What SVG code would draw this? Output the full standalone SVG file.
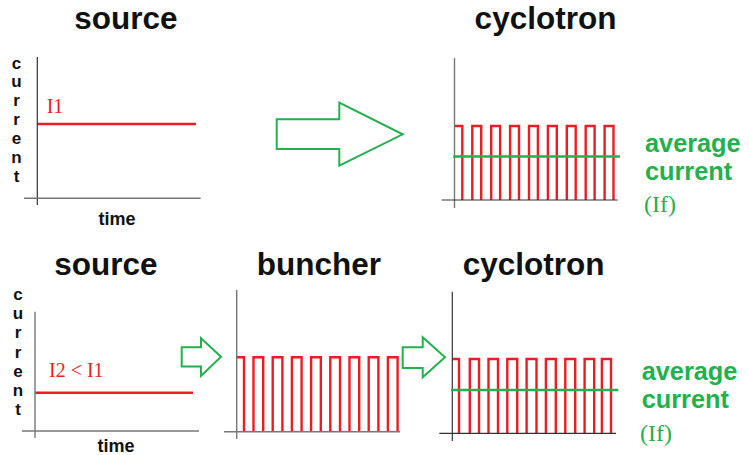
<svg xmlns="http://www.w3.org/2000/svg" width="749" height="455" viewBox="0 0 749 455">
<style>
.title{font-family:"Liberation Sans",Arial,sans-serif;font-weight:bold;font-size:31.5px;fill:#111;text-anchor:middle}
.axlab{font-family:"Liberation Sans",Arial,sans-serif;font-weight:bold;font-size:17px;fill:#111;text-anchor:middle}
.time{font-family:"Liberation Sans",Arial,sans-serif;font-weight:bold;font-size:18px;fill:#111;text-anchor:middle}
.avg{font-family:"Liberation Sans",Arial,sans-serif;font-weight:bold;font-size:25.3px;fill:#22b14c}
.ser{font-family:"Liberation Serif","Times New Roman",serif;font-size:20px}
.ifl{font-family:"Liberation Serif","Times New Roman",serif;font-size:24px;fill:#22b14c}
.axis{stroke:#333;stroke-width:1.2;fill:none}
.axisg{stroke:#777;stroke-width:1.4;fill:none}
.sig{stroke:#ed1c24;stroke-width:2.4;fill:none}
.mean{stroke:#22b14c;stroke-width:2.6;fill:none}
.arrow{stroke:#22b14c;stroke-width:2;fill:#fff;stroke-linejoin:miter}
</style>
<rect width="749" height="455" fill="#fff"/>

<g id="source-top">
<text class="title" x="126" y="28.5">source</text>
<g class="axlab"><text x="16.5" y="68.5">c</text><text x="16.5" y="87.4">u</text><text x="16.5" y="106.3">r</text><text x="16.5" y="125.2">r</text><text x="16.5" y="144.1">e</text><text x="16.5" y="163">n</text><text x="16.5" y="181.9">t</text></g>
<line class="sig" x1="37" y1="124" x2="196" y2="124"/>
<line class="axis" x1="37.3" y1="57" x2="37.3" y2="205"/>
<line class="axisg" x1="24" y1="198.3" x2="200.7" y2="198.3"/>
<text class="ser" x="46.7" y="112.7" fill="#ed1c24">I1</text>
<text class="time" x="117" y="225">time</text>
</g>

<g id="cyclotron-top">
<text class="title" x="545.5" y="28.5">cyclotron</text>
<path class="sig" d="M454.7,126 H462.3 V200 M472.3,200 V126 H481.2 V200 M491.2,200 V126 H500.1 V200 M510.1,200 V126 H519 V200 M529,200 V126 H537.9 V200 M547.9,200 V126 H556.8 V200 M566.8,200 V126 H575.7 V200 M585.7,200 V126 H594.6 V200 M604.6,200 V126 H613.5 V200"/>
<line class="axisg" x1="454.5" y1="58" x2="454.5" y2="208"/>
<line class="axis" x1="441.7" y1="200" x2="617.7" y2="200"/>
<line class="mean" x1="453.3" y1="156.5" x2="620" y2="156.5"/>
<text class="avg" x="645" y="151.7">average</text>
<text class="avg" x="645" y="179.5">current</text>
<text class="ifl" x="644" y="212.3">(If)</text>
</g>

<g id="source-bottom">
<text class="title" x="106" y="275">source</text>
<g class="axlab"><text x="18" y="300">c</text><text x="18" y="319.2">u</text><text x="18" y="338.4">r</text><text x="18" y="357.6">r</text><text x="18" y="376.8">e</text><text x="18" y="396">n</text><text x="18" y="415.2">t</text></g>
<line class="sig" x1="35" y1="392.7" x2="193" y2="392.7"/>
<line class="axisg" x1="35" y1="311.7" x2="35" y2="438"/>
<line class="axisg" x1="22" y1="431" x2="199" y2="431"/>
<text class="ser" x="49" y="377.3" fill="#ed1c24">I2 &lt; I1</text>
<text class="time" x="116" y="451.5">time</text>
</g>

<g id="buncher">
<text class="title" x="318.8" y="275">buncher</text>
<path class="sig" d="M236.7,357.3 H244 V431.7 M253.5,431.7 V357.3 H263.2 V431.7 M272.7,431.7 V357.3 H282.4 V431.7 M291.9,431.7 V357.3 H301.6 V431.7 M311.1,431.7 V357.3 H320.8 V431.7 M330.3,431.7 V357.3 H340 V431.7 M349.5,431.7 V357.3 H359.2 V431.7 M368.7,431.7 V357.3 H378.4 V431.7 M387.9,431.7 V357.3 H397.6 V431.7"/>
<line class="axisg" x1="236.7" y1="290" x2="236.7" y2="439"/>
<line class="axisg" x1="224" y1="431.7" x2="400" y2="431.7"/>
</g>

<g id="cyclotron-bottom">
<text class="title" x="533.7" y="275">cyclotron</text>
<path class="sig" d="M452.3,359 H459 V433.3 M469.8,433.3 V359 H479 V433.3 M488.5,433.3 V359 H498 V433.3 M507.3,433.3 V359 H517.2 V433.3 M526.6,433.3 V359 H536.5 V433.3 M545.9,433.3 V359 H555.8 V433.3 M565.3,433.3 V359 H575.2 V433.3 M584.6,433.3 V359 H594.2 V433.3 M601.9,433.3 V359 H611 V433.3"/>
<line class="axis" x1="452.3" y1="291.7" x2="452.3" y2="441"/>
<line class="axis" x1="439.3" y1="433.3" x2="616" y2="433.3"/>
<line class="mean" x1="451" y1="390" x2="618.3" y2="390"/>
<text class="avg" x="641.7" y="380">average</text>
<text class="avg" x="641.7" y="408.3">current</text>
<text class="ifl" x="640" y="440.7">(If)</text>
</g>

<g id="connectors">
<polygon class="arrow" points="276.7,119.3 339.3,119.3 339.3,102.7 402.7,134.3 339.3,165.7 339.3,149 276.7,149"/>
<polygon class="arrow" points="181.7,347.3 201,347.3 201,338.3 221,356.7 201,376 201,366.5 181.7,366.5"/>
<polygon class="arrow" points="402.7,347.3 422.7,347.3 422.7,337.3 445,357.3 422.7,377.3 422.7,368 402.7,368"/>
</g>
</svg>
